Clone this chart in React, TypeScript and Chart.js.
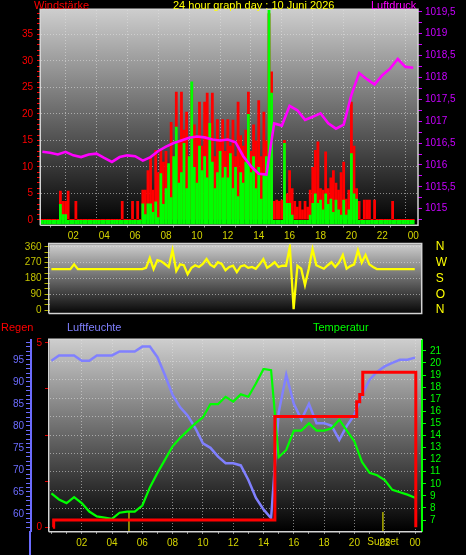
import React, { useEffect, useRef } from 'react';
import { Chart, registerables } from 'chart.js';

Chart.register(...registerables);

const TITLE_FONT = '"Liberation Sans", Arial, sans-serif';
const TICK_FONT = '"Liberation Sans Narrow", "Liberation Sans", Arial, sans-serif';

// ---------------- data ----------------
// wind speed, 10-minute samples 00:00 .. 24:00
const WIND_STEP_H = 1 / 6;
const windGust = [
  0, 0, 0, 0, 0, 0,
  0, 5.5, 3.6, 3.6, 5.5, 0,
  0, 3.6, 0, 0, 0, 0,
  0, 0, 0, 0, 0, 0,
  0, 0, 0, 0, 0, 0,
  0, 3.6, 0, 0, 0, 3.6,
  0, 3.6, 0, 5.7, 5.7, 9.4,
  12, 5.7, 13.2, 9, 13.2, 11,
  13, 6, 18.5, 12, 24.2, 15,
  24.2, 17, 20.4, 12, 24.5, 18,
  16, 22.3, 14, 22.3, 24, 17,
  24, 12, 19, 15, 19, 13,
  19, 14, 18.9, 12, 22.3, 16,
  14, 17, 24.2, 13, 18, 15,
  22.6, 12, 20.4, 15, 39, 28,
  3.6, 3.8, 3.6, 3.8, 15.1, 5,
  9.4, 6, 3.6, 2.5, 3.6, 2,
  3.6, 2.5, 5.7, 10, 13.2, 14.8,
  6, 5.7, 12.9, 6, 8, 9.4,
  7, 5.7, 9, 11, 4, 5.7,
  22.3, 14, 6, 3.6, 0, 3.8,
  3.8, 3.8, 0, 3.8, 0, 0,
  0, 0, 0, 0, 3.6, 0,
  0, 0, 0, 0, 0, 0,
  0,
];
const windMean = [
  0, 0, 0, 0, 0, 0,
  0, 3, 1.1, 1.1, 0, 0,
  0, 0, 0, 0, 0, 0,
  0, 0, 0, 0, 0, 0,
  0, 0, 0, 0, 0, 0,
  0, 0, 0, 0, 0, 0,
  0, 0, 0, 3.1, 1.1, 3.1,
  3.1, 1.5, 3.5, 0.5, 8.8, 3,
  6, 10.7, 4.3, 12, 17.6, 7,
  9, 14.5, 6, 12, 26.1, 10,
  7, 14, 9.4, 12, 8, 18.3,
  11, 6, 9, 13, 8, 10,
  8, 12.6, 6, 10, 4.5, 9,
  7, 11, 20, 9, 12, 6,
  10, 4, 8.5, 12, 40, 24,
  0, 0, 0, 0, 14.5, 3.2,
  3.2, 1, 0, 0, 0, 0,
  0, 0, 1, 3.2, 5, 3.2,
  3.8, 2, 5, 3, 4, 1.5,
  3.8, 2, 1, 3.8, 1, 2,
  12.6, 5, 4, 0, 0, 0,
  0, 0, 0, 0, 0, 0,
  0, 0, 0, 0, 0, 0,
  0, 0, 0, 0, 0, 0,
  0,
];

// air pressure (hPa), 30-minute samples
const PRESSURE_STEP_H = 0.5;
const pressure = [
  1016.30, 1016.28, 1016.24, 1016.30, 1016.22, 1016.18, 1016.24, 1016.26, 1016.16, 1016.07,
  1016.18, 1016.22, 1016.20, 1016.10, 1016.18, 1016.32, 1016.42, 1016.50, 1016.56, 1016.62,
  1016.65, 1016.63, 1016.58, 1016.56, 1016.58, 1016.52, 1016.20, 1015.97, 1015.80, 1015.78,
  1016.95, 1016.90, 1017.35, 1017.25, 1017.03, 1017.10, 1017.18, 1016.95, 1016.83, 1016.92,
  1017.60, 1018.10, 1017.96, 1017.84, 1018.05, 1018.20, 1018.42, 1018.24, 1018.22,
];

// wind direction (degrees), 15-minute samples
const DIR_STEP_H = 0.25;
const windDir = [
  233, 233, 233, 233, 233, 233, 260, 233, 233, 233, 233, 233, 233,
  233, 233, 233, 233, 233, 233, 233, 233, 233, 233, 233, 233,
  240, 297, 233, 284, 278, 262, 245, 341, 222, 260, 255, 204,
  240, 255, 245, 262, 290, 258, 245, 272, 262, 227, 245, 252,
  216, 248, 255, 240, 245, 235, 260, 290, 240, 255, 272, 245,
  252, 252, 360, 5, 252, 235, 142, 235, 347, 255, 245, 235,
  255, 272, 245, 270, 313, 235, 250, 260, 341, 270, 313, 260,
  245, 233,
  233, 233, 233, 233, 233, 233, 233, 233, 233, 233,
];
const dirTickValues = [0, 90, 180, 270, 360];
const dirTickLabels = ['N', 'O', 'S', 'W', 'N'];

// humidity (%) and temperature (°C), 30-minute samples
const CLIMATE_STEP_H = 0.5;
const humidity = [
  94.8, 96.0, 96.0, 96.0, 94.8, 94.8, 96.0, 96.0, 96.0, 96.9,
  96.9, 96.9, 98.0, 98.0, 95.6, 91.5, 87.0, 84.2, 82.3, 79.5,
  76.0, 75.0, 73.0, 71.5, 71.5, 71.0, 67.7, 63.6, 61.0, 59.0,
  83.0, 91.6, 85.0, 81.4, 85.0, 80.6, 80.6, 80.0, 76.8, 80.0,
  82.5, 87.0, 90.5, 92.3, 93.5, 94.3, 95.0, 95.0, 95.5,
];
const temperature = [
  9.2, 8.7, 8.4, 8.9, 8.4, 7.7, 7.3, 7.2, 7.1, 7.6,
  7.7, 7.7, 8.2, 9.7, 10.9, 12.0, 13.1, 13.8, 14.4, 15.0,
  15.5, 16.6, 16.6, 17.2, 16.8, 17.4, 17.2, 18.3, 19.5, 19.4,
  12.2, 12.8, 14.4, 14.4, 15.0, 14.4, 14.4, 14.6, 15.3, 14.4,
  13.5, 11.8, 10.9, 10.7, 10.3, 9.5, 9.3, 9.1, 8.85,
];

// cumulative rain (mm), change points
const rainTimes = [0.1, 0.15, 14.75, 20.15, 20.35, 20.55, 24.05];
const rainTotals = [0, 0.2, 3.0, 3.4, 3.6, 4.2, 0];

const sunriseHour = 5.12;
const sunsetHour = 21.88;
const sunsetLabel = 'Sunset';

const hourTickLabels = ['02', '04', '06', '08', '10', '12', '14', '16', '18', '20', '22', '00'];

// ---------------- styling ----------------
const RED = '#ff0000';
const GREEN = '#00ff00';
const MAGENTA = '#ff00ff';
const PRESSURE_LABEL = '#c800ff';
const YELLOW = '#ffff00';
const OLIVE = '#d4d400';
const DIR_LABEL = '#c4c400';
const BLUE = '#8080ff';
const BLUE_AXIS = '#6c6cff';
const GRID = 'rgba(225,225,225,0.55)';
const FRAME = '#d4d4d4';
const SUN = '#b0b000';

const isMult = (v: number, m: number) => Math.abs(v / m - Math.round(v / m)) < 1e-6;

const hourLabel = (v: any) => {
  const n = Number(v);
  if (!isMult(n, 2) || n <= 0 || n > 24) return '';
  return hourTickLabels[Math.round(n) / 2 - 1];
};

const fix = (w?: number, h?: number) => (s: any) => {
  if (w !== undefined) s.width = w;
  if (h !== undefined) s.height = h;
  s.paddingTop = 0;
  s.paddingBottom = 0;
  s.paddingLeft = 0;
  s.paddingRight = 0;
};

const series = (vals: number[], step: number) => vals.map((v, i) => ({ x: i * step, y: v }));

function panelPlugin(top: string, bottom: string, rightFrame: boolean) {
  return {
    id: 'panelBg',
    beforeDraw(chart: any) {
      const { ctx, chartArea: a } = chart;
      const g = ctx.createLinearGradient(0, a.top, 0, a.bottom);
      g.addColorStop(0, top);
      g.addColorStop(1, bottom);
      ctx.save();
      ctx.fillStyle = g;
      ctx.fillRect(a.left, a.top, a.right - a.left, a.bottom - a.top);
      ctx.restore();
    },
    beforeDatasetsDraw(chart: any) {
      const { ctx, chartArea: a } = chart;
      ctx.save();
      ctx.strokeStyle = FRAME;
      ctx.lineWidth = 1.5;
      ctx.beginPath();
      ctx.moveTo(a.left - 0.75, a.bottom + 0.75);
      ctx.lineTo(a.left - 0.75, a.top - 0.75);
      ctx.lineTo(a.right, a.top - 0.75);
      if (rightFrame) ctx.lineTo(a.right, a.bottom + 0.75);
      else ctx.moveTo(a.right, a.bottom + 0.75);
      ctx.lineTo(a.left - 0.75, a.bottom + 0.75);
      ctx.stroke();
      ctx.restore();
    },
  };
}

const sunPlugin = {
  id: 'sun',
  beforeDatasetsDraw(chart: any) {
    const { ctx, chartArea: a, scales } = chart;
    ctx.save();
    ctx.strokeStyle = SUN;
    ctx.lineWidth = 1.5;
    [sunriseHour, sunsetHour].forEach((h) => {
      const x = scales.x.getPixelForValue(h);
      ctx.beginPath();
      ctx.moveTo(x, a.bottom);
      ctx.lineTo(x, a.bottom - 19);
      ctx.stroke();
    });
    ctx.restore();
  },
  afterDraw(chart: any) {
    const { ctx, scales, chartArea: a } = chart;
    const xs = scales.x;
    ctx.save();
    ctx.fillStyle = OLIVE;
    ctx.font = `10px ${TICK_FONT}`;
    ctx.textAlign = 'center';
    ctx.textBaseline = 'top';
    ctx.fillText(sunsetLabel, xs.getPixelForValue(sunsetHour), xs.top + 6);
    // humidity axis line continues to the bottom of the picture
    const hx = scales.h.right - 1;
    ctx.strokeStyle = BLUE_AXIS;
    ctx.lineWidth = 2;
    ctx.beginPath();
    ctx.moveTo(hx, a.bottom);
    ctx.lineTo(hx, chart.height);
    ctx.stroke();
    ctx.restore();
  },
};

const baseOpts = {
  animation: false as const,
  responsive: false,
  maintainAspectRatio: false,
  devicePixelRatio: 1,
  plugins: { legend: { display: false }, tooltip: { enabled: false }, title: { display: false } },
};

export default function App() {
  const r1 = useRef<HTMLCanvasElement>(null);
  const r2 = useRef<HTMLCanvasElement>(null);
  const r3 = useRef<HTMLCanvasElement>(null);

  useEffect(() => {
    Chart.defaults.font.family = TICK_FONT;
    Chart.defaults.font.size = 10;
    const charts: any[] = [];

    // ---------- panel 1: wind speed + pressure ----------
    charts.push(
      new Chart(r1.current as HTMLCanvasElement, {
        type: 'bar',
        data: {
          datasets: [
            {
              type: 'line',
              data: series(pressure, PRESSURE_STEP_H),
              yAxisID: 'p',
              borderColor: MAGENTA,
              borderWidth: 2.6,
              pointRadius: 0,
              tension: 0,
              order: 0,
            } as any,
            {
              type: 'bar',
              data: series(windMean, WIND_STEP_H),
              yAxisID: 'y',
              backgroundColor: GREEN,
              base: -0.85,
              grouped: false,
              barPercentage: 1.08,
              categoryPercentage: 1,
              borderWidth: 0,
              order: 1,
            } as any,
            {
              type: 'bar',
              data: series(windGust, WIND_STEP_H),
              yAxisID: 'y',
              backgroundColor: RED,
              minBarLength: 2,
              grouped: false,
              barPercentage: 1.08,
              categoryPercentage: 1,
              borderWidth: 0,
              order: 2,
            } as any,
          ],
        },
        options: {
          ...baseOpts,
          layout: { padding: { top: 10, left: 0, right: 0, bottom: 0 } },
          scales: {
            x: {
              type: 'linear',
              min: -0.09,
              max: 24.31,
              offset: false,
              afterFit: fix(undefined, 20.5),
              ticks: { stepSize: 1, autoSkip: false, includeBounds: false, maxRotation: 0, callback: hourLabel, color: OLIVE, padding: 3 },
              grid: {
                color: (c: any) => (c.tick && isMult(c.tick.value, 2) && c.tick.value > 0 ? GRID : 'transparent'),
                tickColor: '#909090',
                tickLength: 3,
              },
              border: { display: false, dash: [1, 2] },
            },
            y: {
              type: 'linear',
              position: 'left',
              min: -0.85,
              max: 39.6,
              afterFit: fix(41),
              ticks: {
                stepSize: 1,
                autoSkip: false,
                includeBounds: false,
                color: RED,
                padding: 4,
                callback: (v: any) => (isMult(Number(v), 5) ? String(v) : ''),
              },
              grid: {
                color: (c: any) => (c.tick && isMult(c.tick.value, 5) && c.tick.value > 0 ? GRID : 'transparent'),
                tickColor: RED,
                tickLength: 4,
              },
              border: { display: false, dash: [1, 2] },
            },
            p: {
              type: 'linear',
              position: 'right',
              min: 1014.64,
              max: 1019.54,
              afterFit: fix(48),
              ticks: {
                stepSize: 0.25,
                autoSkip: false,
                includeBounds: false,
                color: PRESSURE_LABEL,
                padding: 3,
                callback: (v: any) => {
                  const n = Number(v);
                  if (!isMult(n, 0.5)) return '';
                  return isMult(n, 1) ? String(Math.round(n)) : `${Math.floor(n)},5`;
                },
              },
              grid: { drawOnChartArea: false, tickColor: PRESSURE_LABEL, tickLength: 4 },
              border: { display: false },
            },
          },
        } as any,
        plugins: [panelPlugin('#cdcdcd', '#000000', true)],
      } as any)
    );

    // ---------- panel 2: wind direction ----------
    charts.push(
      new Chart(r2.current as HTMLCanvasElement, {
        type: 'line',
        data: {
          datasets: [
            {
              data: series(windDir, DIR_STEP_H),
              borderColor: YELLOW,
              borderWidth: 2.3,
              pointRadius: 0,
              tension: 0,
            },
          ],
        },
        options: {
          ...baseOpts,
          layout: { padding: { top: 6.3, left: 0, right: 0, bottom: 5.3 } },
          scales: {
            x: { type: 'linear', min: -0.125, max: 24.46, display: false },
            y: {
              type: 'linear',
              position: 'left',
              min: -15,
              max: 374,
              afterFit: fix(49.5),
              ticks: {
                stepSize: 30,
                autoSkip: false,
                includeBounds: false,
                color: DIR_LABEL,
                padding: 3,
                callback: (v: any) => (isMult(Number(v), 90) ? String(v) : ''),
              },
              grid: {
                color: (c: any) => (c.tick && isMult(c.tick.value, 90) && c.tick.value > 0 ? GRID : 'transparent'),
                tickColor: '#b0b000',
                tickLength: 5,
              },
              border: { display: false, dash: [1, 2] },
            },
            dir: {
              type: 'linear',
              position: 'right',
              min: -15,
              max: 374,
              afterFit: fix(44.3),
              ticks: {
                stepSize: 90,
                autoSkip: false,
                includeBounds: false,
                color: YELLOW,
                padding: 14,
                font: { size: 12, family: TICK_FONT },
                callback: (v: any) => {
                  const i = dirTickValues.indexOf(Number(v));
                  return i >= 0 ? dirTickLabels[i] : '';
                },
              },
              grid: { drawOnChartArea: false, drawTicks: false },
              border: { display: false },
            },
          },
        } as any,
        plugins: [panelPlugin('#cdcdcd', '#080808', true)],
      } as any)
    );

    // ---------- panel 3: rain, humidity, temperature ----------
    charts.push(
      new Chart(r3.current as HTMLCanvasElement, {
        type: 'line',
        data: {
          datasets: [
            {
              data: rainTimes.map((t, i) => ({ x: t, y: rainTotals[i] })),
              yAxisID: 'rain',
              borderColor: RED,
              borderWidth: 3,
              stepped: true,
              pointRadius: 0,
              order: 0,
            },
            {
              data: series(temperature, CLIMATE_STEP_H),
              yAxisID: 't',
              borderColor: GREEN,
              borderWidth: 2.2,
              pointRadius: 0,
              tension: 0,
              order: 1,
            },
            {
              data: series(humidity, CLIMATE_STEP_H),
              yAxisID: 'h',
              borderColor: BLUE,
              borderWidth: 2.5,
              pointRadius: 0,
              tension: 0,
              order: 2,
            },
          ],
        },
        options: {
          ...baseOpts,
          layout: { padding: { top: 20, left: 0, right: 0, bottom: 0 } },
          scales: {
            x: {
              type: 'linear',
              min: -0.125,
              max: 24.46,
              offset: false,
              afterFit: fix(undefined, 24),
              ticks: { stepSize: 1, autoSkip: false, includeBounds: false, maxRotation: 0, callback: hourLabel, color: OLIVE, padding: 3 },
              grid: {
                color: (c: any) => (c.tick && isMult(c.tick.value, 2) && c.tick.value > 0 ? GRID : 'transparent'),
                tickColor: '#909090',
                tickLength: 3,
              },
              border: { display: false, dash: [1, 2] },
            },
            rain: {
              type: 'linear',
              position: 'left',
              weight: 0,
              min: -0.1,
              max: 5.075,
              afterFit: fix(18.5),
              ticks: {
                stepSize: 0.25,
                autoSkip: false,
                includeBounds: false,
                color: RED,
                padding: 3,
                callback: (v: any) => (Number(v) === 0 || Number(v) === 5 ? String(v) : ''),
              },
              grid: {
                color: (c: any) =>
                  c.tick && isMult(c.tick.value, 0.5) && c.tick.value > 0 && c.tick.value < 5 ? GRID : 'transparent',
                tickColor: (c: any) => (c.tick && isMult(c.tick.value, 1.25) ? '#e00000' : 'transparent'),
                tickLength: 4.5,
              },
              border: { display: false, dash: [1, 2] },
            },
            h: {
              type: 'linear',
              position: 'left',
              weight: 1,
              min: 56.1,
              max: 99.5,
              afterFit: fix(31),
              ticks: {
                stepSize: 1,
                autoSkip: false,
                includeBounds: false,
                color: BLUE_AXIS,
                padding: 2,
                callback: (v: any) => (isMult(Number(v), 5) ? String(v) : ''),
              },
              grid: { drawOnChartArea: false, tickColor: BLUE_AXIS, tickLength: 5 },
              border: { display: true, color: BLUE_AXIS, width: 2 },
            },
            t: {
              type: 'linear',
              position: 'right',
              min: 6.09,
              max: 21.9,
              afterFit: fix(44),
              ticks: { stepSize: 1, autoSkip: false, includeBounds: false, color: GREEN, padding: 4 },
              grid: { drawOnChartArea: false, tickColor: GREEN, tickLength: 4 },
              border: { display: true, color: GREEN, width: 2 },
            },
          },
        } as any,
        plugins: [panelPlugin('#cdcdcd', '#000000', false), sunPlugin],
      } as any)
    );

    return () => charts.forEach((c) => c.destroy());
  }, []);

  const title = (text: string, left: number, top: number, color: string) => (
    <span
      style={{
        position: 'absolute',
        left,
        top,
        color,
        fontFamily: TITLE_FONT,
        fontSize: 11,
        lineHeight: '13px',
        whiteSpace: 'nowrap',
      }}
    >
      {text}
    </span>
  );

  return (
    <div
      style={{
        position: 'fixed',
        left: 0,
        top: 0,
        width: 466,
        height: 555,
        background: '#000',
        overflow: 'hidden',
      }}
    >
      <canvas ref={r1} width={466} height={245} style={{ position: 'absolute', left: 0, top: 0, width: 466, height: 245 }} />
      <canvas ref={r2} width={466} height={80} style={{ position: 'absolute', left: 0, top: 238, width: 466, height: 80 }} />
      <canvas ref={r3} width={466} height={235} style={{ position: 'absolute', left: 0, top: 320, width: 466, height: 235 }} />
      {title('Windstärke', 34, -1, RED)}
      {title('24 hour graph day : 10 Juni 2026', 173, -1, YELLOW)}
      {title('Luftdruck', 371, -1, MAGENTA)}
      {title('Regen', 1, 320.5, RED)}
      {title('Luftfeuchte', 67, 320.5, BLUE)}
      {title('Temperatur', 313, 320.5, GREEN)}
    </div>
  );
}
